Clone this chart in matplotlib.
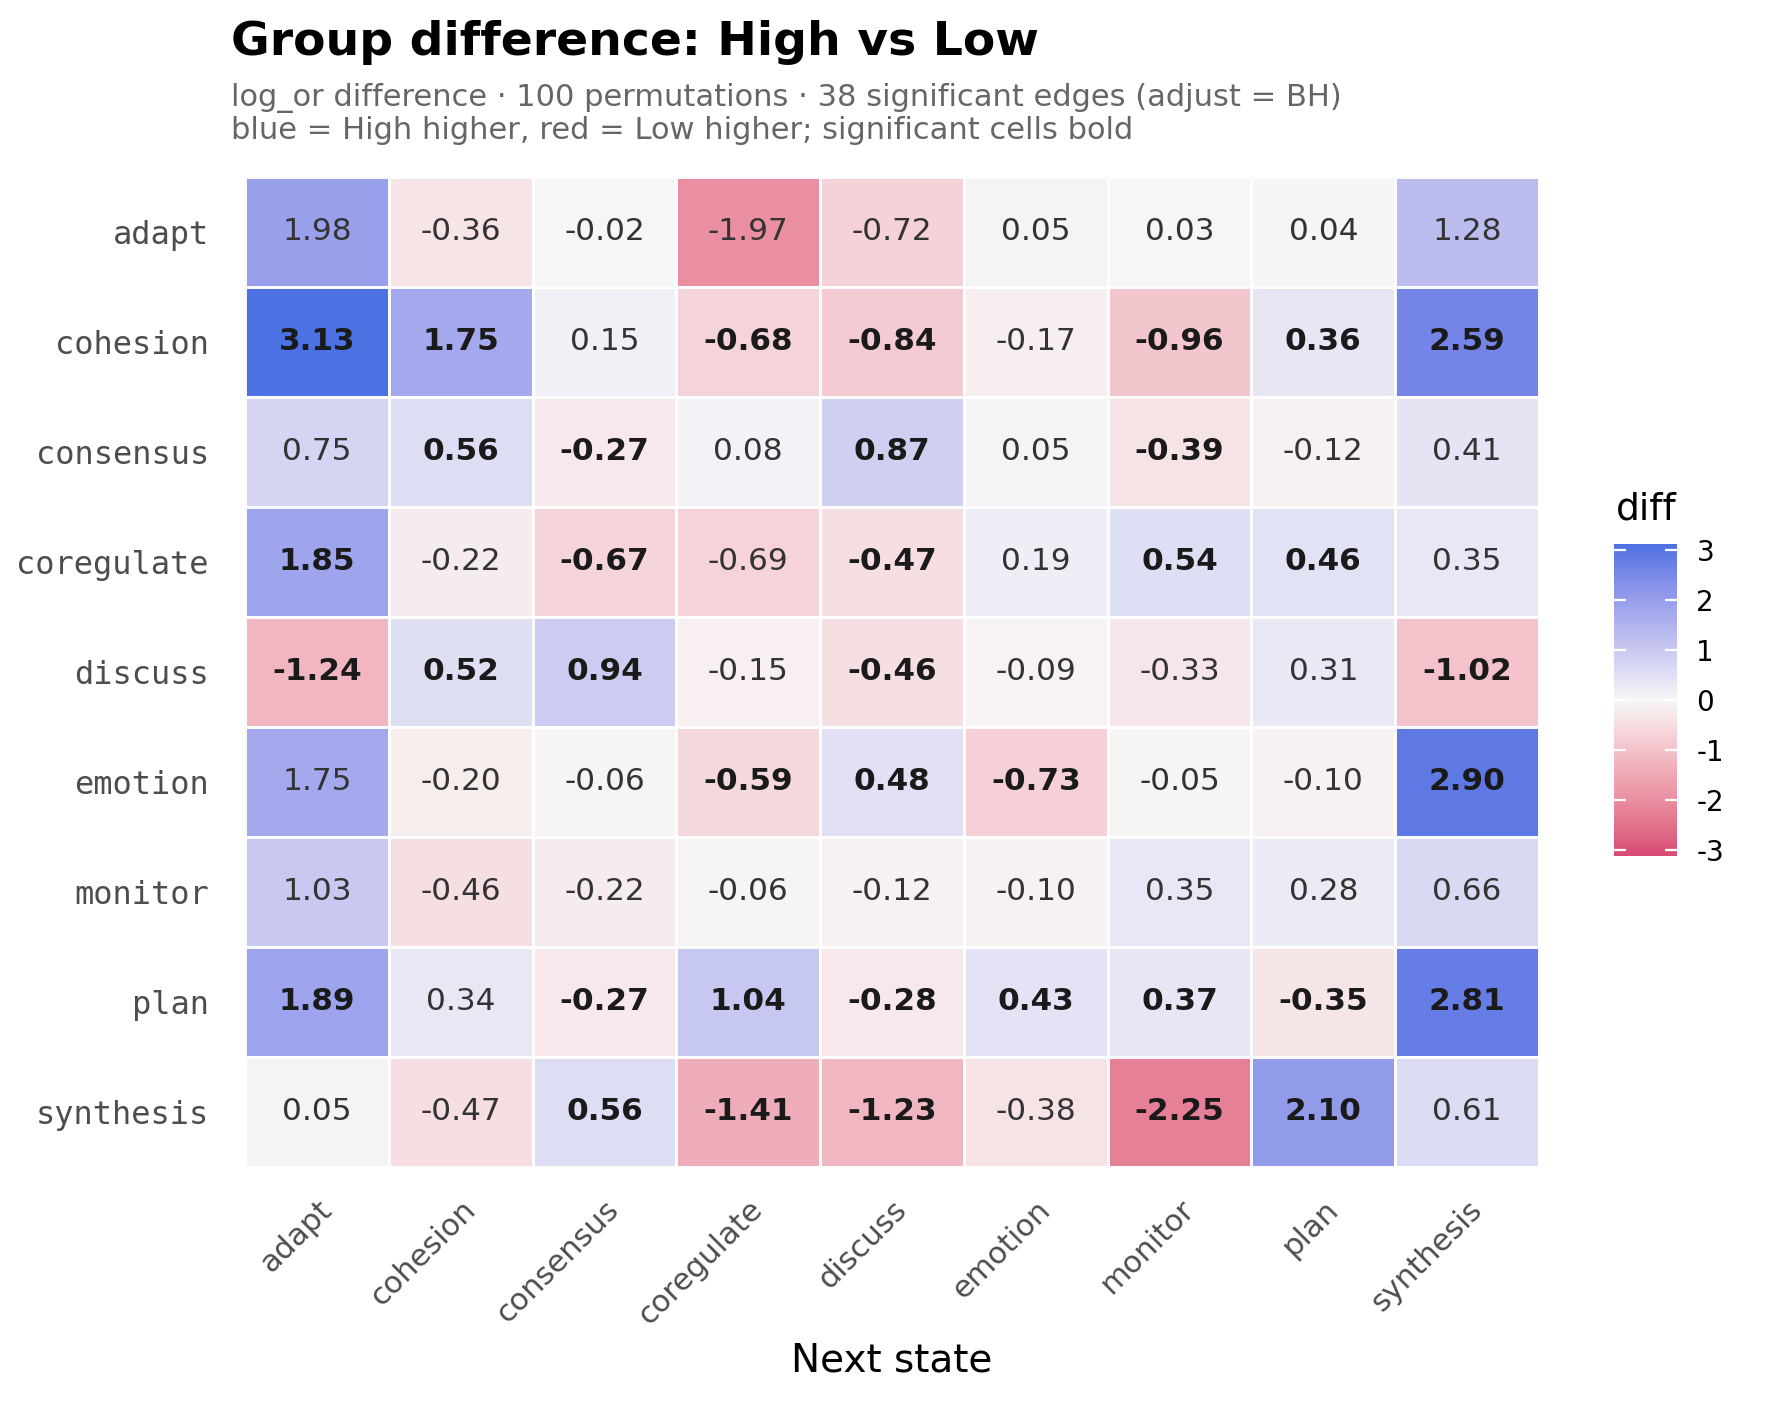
import numpy as np
import matplotlib
matplotlib.use("Agg")
import matplotlib.pyplot as plt
from matplotlib.colors import ListedColormap, Normalize, to_rgb
import matplotlib.transforms as mtransforms

plt.rcParams["axes.unicode_minus"] = False

states = ["adapt", "cohesion", "consensus", "coregulate", "discuss",
          "emotion", "monitor", "plan", "synthesis"]

diff_adapt      = [1.98, -0.36, -0.02, -1.97, -0.72, 0.05, 0.03, 0.04, 1.28]
diff_cohesion   = [3.13, 1.75, 0.15, -0.68, -0.84, -0.17, -0.96, 0.36, 2.59]
diff_consensus  = [0.75, 0.56, -0.27, 0.08, 0.87, 0.05, -0.39, -0.12, 0.41]
diff_coregulate = [1.85, -0.22, -0.67, -0.69, -0.47, 0.19, 0.54, 0.46, 0.35]
diff_discuss    = [-1.24, 0.52, 0.94, -0.15, -0.46, -0.09, -0.33, 0.31, -1.02]
diff_emotion    = [1.75, -0.20, -0.06, -0.59, 0.48, -0.73, -0.05, -0.10, 2.90]
diff_monitor    = [1.03, -0.46, -0.22, -0.06, -0.12, -0.10, 0.35, 0.28, 0.66]
diff_plan       = [1.89, 0.34, -0.27, 1.04, -0.28, 0.43, 0.37, -0.35, 2.81]
diff_synthesis  = [0.05, -0.47, 0.56, -1.41, -1.23, -0.38, -2.25, 2.10, 0.61]

sig_adapt      = [0, 0, 0, 0, 0, 0, 0, 0, 0]
sig_cohesion   = [1, 1, 0, 1, 1, 0, 1, 1, 1]
sig_consensus  = [0, 1, 1, 0, 1, 0, 1, 0, 0]
sig_coregulate = [1, 0, 1, 0, 1, 0, 1, 1, 0]
sig_discuss    = [1, 1, 1, 0, 1, 0, 0, 0, 1]
sig_emotion    = [0, 0, 0, 1, 1, 1, 0, 0, 1]
sig_monitor    = [0, 0, 0, 0, 0, 0, 0, 0, 0]
sig_plan       = [1, 0, 1, 1, 1, 1, 1, 1, 1]
sig_synthesis  = [0, 0, 1, 1, 1, 0, 1, 1, 0]

values = np.array([diff_adapt, diff_cohesion, diff_consensus, diff_coregulate,
                   diff_discuss, diff_emotion, diff_monitor, diff_plan, diff_synthesis])
sig = np.array([sig_adapt, sig_cohesion, sig_consensus, sig_coregulate,
                sig_discuss, sig_emotion, sig_monitor, sig_plan, sig_synthesis])

# ---- Lab-interpolated diverging palette (like ggplot scale_fill_gradient2) ----
def srgb_to_lin(c):
    c = np.asarray(c)
    return np.where(c <= 0.04045, c / 12.92, ((c + 0.055) / 1.055) ** 2.4)

def lin_to_srgb(c):
    c = np.clip(c, 0, 1)
    return np.where(c <= 0.0031308, 12.92 * c, 1.055 * c ** (1 / 2.4) - 0.055)

M = np.array([[0.4124564, 0.3575761, 0.1804375],
              [0.2126729, 0.7151522, 0.0721750],
              [0.0193339, 0.1191920, 0.9503041]])
Minv = np.linalg.inv(M)
WP = np.array([0.95047, 1.0, 1.08883])

def f_lab(t):
    d = 6 / 29
    return np.where(t > d ** 3, np.cbrt(t), t / (3 * d ** 2) + 4 / 29)

def finv_lab(t):
    d = 6 / 29
    return np.where(t > d, t ** 3, 3 * d ** 2 * (t - 4 / 29))

def rgb_to_lab(rgb):
    xyz = M @ srgb_to_lin(rgb) / WP
    fx, fy, fz = f_lab(xyz)
    return np.array([116 * fy - 16, 500 * (fx - fy), 200 * (fy - fz)])

def lab_to_rgb(lab):
    L, a, b = lab
    fy = (L + 16) / 116
    fx = fy + a / 500
    fz = fy - b / 200
    xyz = np.array([finv_lab(fx), finv_lab(fy), finv_lab(fz)]) * WP
    return lin_to_srgb(Minv @ xyz)

low_col, mid_col, high_col = "#D5406C", "#F7F7F7", "#4169E1"
lab_low, lab_mid, lab_high = (rgb_to_lab(to_rgb(c)) for c in (low_col, mid_col, high_col))
cols = []
for t in np.linspace(0, 1, 512):
    if t < 0.5:
        s = t / 0.5
        lab = lab_low + (lab_mid - lab_low) * s
    else:
        s = (t - 0.5) / 0.5
        lab = lab_mid + (lab_high - lab_mid) * s
    cols.append(lab_to_rgb(lab))
cmap = ListedColormap(np.clip(np.array(cols), 0, 1))

lim = np.abs(values).max()
norm = Normalize(vmin=-lim, vmax=lim)

# ---- figure ----
W, H, DPI = 1768, 1404, 200
fig = plt.figure(figsize=(W / DPI, H / DPI), dpi=DPI)
ax = fig.add_axes([245 / W, 1 - 1167 / H, (1539 - 245) / W, (1167 - 177) / H])

n = len(states)
mesh = ax.pcolormesh(np.arange(n + 1) - 0.5, np.arange(n + 1) - 0.5, values,
                     cmap=cmap, norm=norm, edgecolors="white", linewidth=0.9,
                     alpha=0.95)
ax.set_xlim(-0.5, n - 0.5)
ax.set_ylim(n - 0.5, -0.5)

for i in range(n):
    for j in range(n):
        bold = sig[i, j] == 1
        ax.text(j, i, f"{values[i, j]:.2f}", ha="center", va="center",
                fontsize=11.2, fontweight="bold" if bold else "normal",
                color="#1A1A1A" if bold else "#333333")

for s in ax.spines.values():
    s.set_visible(False)

ax.set_yticks(np.arange(n))
ax.set_yticklabels(states, family="DejaVu Sans Mono", fontsize=11.5, color="#4D4D4D")
ax.set_xticks(np.arange(n))
ax.set_xticklabels(states, fontsize=11, color="#4D4D4D", rotation=45,
                   ha="right", va="top", rotation_mode="anchor")
offset = mtransforms.ScaledTranslation(14 / DPI, 0, fig.dpi_scale_trans)
for lbl in ax.get_xticklabels():
    lbl.set_transform(lbl.get_transform() + offset)
ax.tick_params(axis="y", length=0, pad=13)
ax.tick_params(axis="x", length=0, pad=10)
ax.set_xlabel("Next state", fontsize=14, labelpad=4)

# title / subtitle
fig.text(231 / W, 1 - 55 / H, "Group difference: High vs Low", fontsize=17,
         fontweight="bold", ha="left", va="baseline")
fig.text(231 / W, 1 - 106 / H,
         "log_or difference \u00b7 100 permutations \u00b7 38 significant edges (adjust = BH)",
         fontsize=11.0, color="#666666", ha="left", va="baseline")
fig.text(231 / W, 1 - 139 / H,
         "blue = High higher, red = Low higher; significant cells bold",
         fontsize=11.0, color="#666666", ha="left", va="baseline")

# colorbar
cax = fig.add_axes([1614 / W, 1 - 856 / H, 63 / W, 312 / H])
cb = fig.colorbar(mesh, cax=cax, ticks=[-3, -2, -1, 0, 1, 2, 3])
cb.outline.set_visible(False)
cb.ax.tick_params(direction="in", color="white", length=4.3, width=0.8,
                  left=True, right=True, labelsize=10, pad=7)
fig.text(1616 / W, 1 - 520 / H, "diff", fontsize=13.5, ha="left", va="baseline")

fig.savefig("out.png", dpi=DPI)
